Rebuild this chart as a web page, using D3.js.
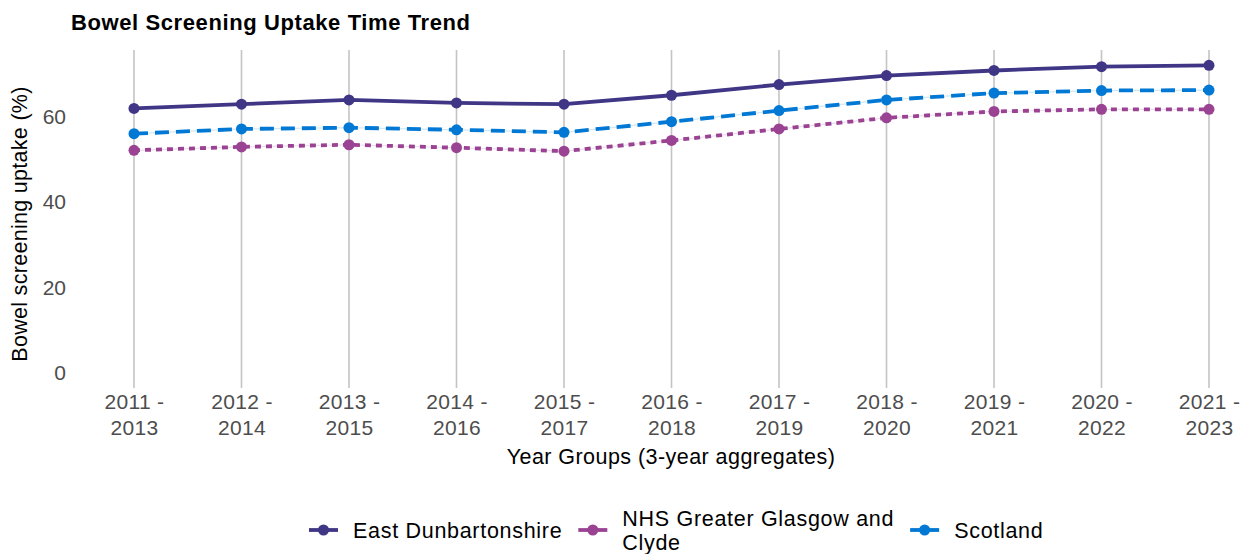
<!DOCTYPE html>
<html>
<head>
<meta charset="utf-8">
<script src="https://cdn.jsdelivr.net/npm/d3@7"></script>
<style>
  html, body { margin: 0; padding: 0; background: #fff; }
  svg { display: block; font-family: "Liberation Sans", Arial, sans-serif; }
</style>
</head>
<body>
<svg id="chart" width="1250" height="554"></svg>
<script>
const categories = ["2011 - 2013","2012 - 2014","2013 - 2015","2014 - 2016","2015 - 2017","2016 - 2018","2017 - 2019","2018 - 2020","2019 - 2021","2020 - 2022","2021 - 2023"];
const eastDunbartonshire = [61.9, 62.9, 63.9, 63.2, 62.9, 65.0, 67.5, 69.6, 70.8, 71.7, 72.0];
const nhsGGC = [52.1, 52.9, 53.4, 52.7, 51.9, 54.4, 57.1, 59.7, 61.2, 61.7, 61.7];
const scotland = [56.0, 57.1, 57.4, 56.9, 56.3, 58.8, 61.4, 63.9, 65.5, 66.1, 66.2];
const seriesNames = ["East Dunbartonshire", "NHS Greater Glasgow and Clyde", "Scotland"];
const yTicks = [0, 20, 40, 60];
const titleText = "Bowel Screening Uptake Time Trend";
const xTitle = "Year Groups (3-year aggregates)";
const yTitle = "Bowel screening uptake (%)";

const series = [
  { name: seriesNames[0], values: eastDunbartonshire, color: "#3F3685", dash: null, legendLines: ["East Dunbartonshire"] },
  { name: seriesNames[1], values: nhsGGC, color: "#9B4393", dash: "6,5", legendLines: ["NHS Greater Glasgow and", "Clyde"] },
  { name: seriesNames[2], values: scotland, color: "#0078D4", dash: "14,7", legendLines: ["Scotland"] }
];

const svg = d3.select("#chart");
const x = d3.scalePoint().domain(categories).range([134, 1209]);
const y = d3.scaleLinear().domain([-3.6, 75.6]).range([388, 50]);

// vertical grid lines
svg.append("g").selectAll("line").data(categories).join("line")
  .attr("x1", d => x(d)).attr("x2", d => x(d))
  .attr("y1", y(75.6)).attr("y2", y(-3.6))
  .attr("stroke", "#C4C4C4").attr("stroke-width", 1.6);

// y axis (no line, no ticks)
const yAxis = svg.append("g").attr("transform", "translate(72,0)")
  .call(d3.axisLeft(y).tickValues(yTicks).tickSize(0).tickPadding(6));
yAxis.select(".domain").remove();
yAxis.selectAll("text").attr("font-size", 21).attr("fill", "#4D4D4D")
  .attr("font-family", "Liberation Sans, Arial, sans-serif");

// x axis labels (two lines)
const xAxis = svg.append("g").attr("transform", `translate(0,${y(-3.6)})`)
  .call(d3.axisBottom(x).tickSize(0).tickFormat(""));
xAxis.select(".domain").remove();
xAxis.selectAll(".tick").each(function(d) {
  const parts = d.split(" - ");
  const t = d3.select(this).append("text")
    .attr("text-anchor", "middle").attr("fill", "#4D4D4D")
    .attr("font-size", 21).attr("letter-spacing", 0.3)
    .attr("font-family", "Liberation Sans, Arial, sans-serif");
  t.append("tspan").attr("x", 0).attr("y", 21).text(parts[0] + " -");
  t.append("tspan").attr("x", 0).attr("y", 47).text(parts[1]);
});

// lines
const line = d3.line().x((d, i) => x(categories[i])).y(d => y(d));
series.forEach(s => {
  if (s.dash) {
    svg.append("path").datum(s.values).attr("d", line)
      .attr("fill", "none").attr("stroke", s.color).attr("stroke-width", 1.2).attr("stroke-opacity", 0.18);
  }
  svg.append("path").datum(s.values).attr("d", line)
    .attr("fill", "none").attr("stroke", s.color).attr("stroke-width", 3.8)
    .attr("stroke-dasharray", s.dash);
  svg.append("g").selectAll("circle").data(s.values).join("circle")
    .attr("cx", (d, i) => x(categories[i])).attr("cy", d => y(d))
    .attr("r", 5.5).attr("fill", s.color);
});

// title
svg.append("text").attr("x", 71).attr("y", 30).attr("font-size", 22).attr("font-weight", "bold")
  .attr("letter-spacing", 0.6).attr("fill", "#000").text(titleText);

// axis titles
svg.append("text").attr("x", 671).attr("y", 464).attr("text-anchor", "middle")
  .attr("font-size", 21.5).attr("letter-spacing", 0.45).attr("fill", "#000").text(xTitle);
svg.append("text").attr("transform", `translate(27,224) rotate(-90)`)
  .attr("text-anchor", "middle").attr("font-size", 21.5).attr("letter-spacing", 0.3)
  .attr("fill", "#000").text(yTitle);

// legend
const legend = svg.append("g");
let lx = 309;
const ly = 530;
series.forEach(s => {
  const g = legend.append("g");
  g.append("line").attr("x1", lx).attr("x2", lx + 29).attr("y1", ly).attr("y2", ly)
    .attr("stroke", s.color).attr("stroke-width", 3.8);
  g.append("circle").attr("cx", lx + 14.5).attr("cy", ly).attr("r", 5.5).attr("fill", s.color);
  const tx = lx + 44;
  const t = g.append("text").attr("font-size", 21.5).attr("letter-spacing", 0.7).attr("fill", "#000");
  const n = s.legendLines.length;
  s.legendLines.forEach((ln, i) => {
    t.append("tspan").attr("x", tx).attr("y", ly + 7.5 + (i - (n - 1) / 2) * 24).text(ln);
  });
  let w = 0;
  t.selectAll("tspan").each(function() { w = Math.max(w, this.getComputedTextLength()); });
  lx = tx + w + 16;
});
</script>
</body>
</html>
